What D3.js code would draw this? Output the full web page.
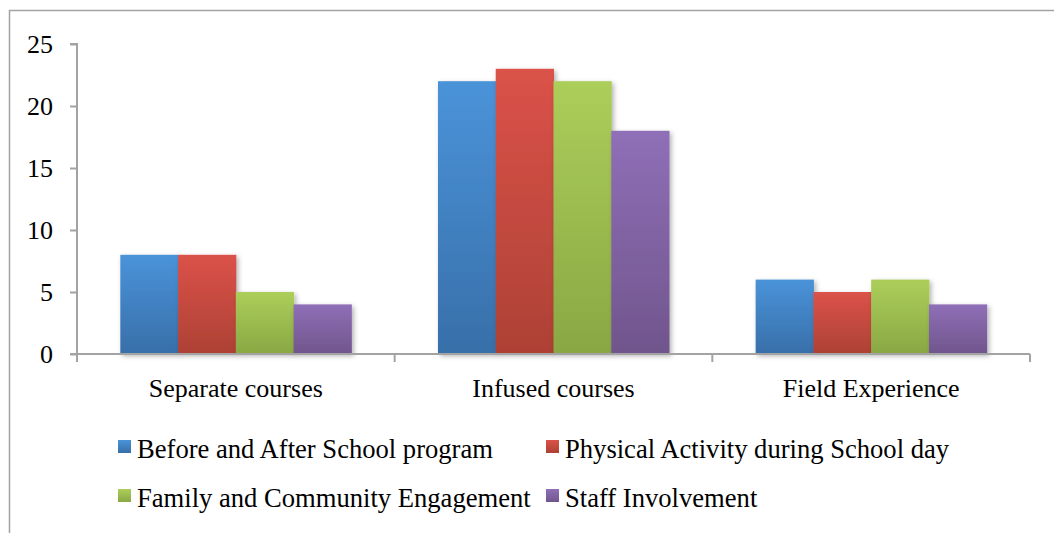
<!DOCTYPE html>
<html>
<head>
<meta charset="utf-8">
<script src="https://cdn.jsdelivr.net/npm/d3@7"></script>
<style>
  html, body { margin: 0; padding: 0; background: #fff; }
  svg { display: block; }
  text { font-family: "Liberation Serif", "Times New Roman", serif; fill: #000; }
</style>
</head>
<body>
<svg id="chart" width="1054" height="533"></svg>
<script>
// Chart data
const categories = ["Separate courses", "Infused courses", "Field Experience"];
const seriesNames = [
  "Before and After School program",
  "Physical Activity during School day",
  "Family and Community Engagement",
  "Staff Involvement"
];
const beforeAfter = [8, 22, 6];
const physicalActivity = [8, 23, 5];
const familyCommunity = [5, 22, 6];
const staffInvolvement = [4, 18, 4];
const yTicks = [0, 5, 10, 15, 20, 25];

const seriesValues = [beforeAfter, physicalActivity, familyCommunity, staffInvolvement];
const palette = [
  { top: "#4a93d9", bottom: "#386fa9" },
  { top: "#db5249", bottom: "#ad4135" },
  { top: "#acce5a", bottom: "#89a844" },
  { top: "#8f6fb7", bottom: "#70558c" }
];
const axisFontSize = "26px";
const legendFontSize = "26.6px";

const svg = d3.select("#chart");
const defs = svg.append("defs");

palette.forEach((c, i) => {
  const g = defs.append("linearGradient")
    .attr("id", "grad" + i)
    .attr("x1", 0).attr("y1", 0).attr("x2", 0).attr("y2", 1);
  g.append("stop").attr("offset", "0%").attr("stop-color", c.top);
  g.append("stop").attr("offset", "100%").attr("stop-color", c.bottom);
});

const shadow = defs.append("filter").attr("id", "barShadow")
  .attr("x", "-20%").attr("y", "-10%").attr("width", "150%").attr("height", "130%");
shadow.append("feDropShadow")
  .attr("dx", 2).attr("dy", 2).attr("stdDeviation", 2.5)
  .attr("flood-color", "#000").attr("flood-opacity", 0.3);

// Outer frame
svg.append("rect")
  .attr("x", 9.5).attr("y", 10.5)
  .attr("width", 1060).attr("height", 540)
  .attr("fill", "none").attr("stroke", "#a3a3a3").attr("stroke-width", 1.5);

const plot = { left: 77, right: 1030, top: 44, bottom: 354 };

const x0 = d3.scaleBand()
  .domain(categories)
  .range([plot.left, plot.right])
  .paddingInner(0).paddingOuter(0);

const x1 = d3.scaleBand()
  .domain(d3.range(seriesNames.length))
  .range([0, x0.bandwidth()])
  .paddingOuter(0.75).paddingInner(0);

const y = d3.scaleLinear().domain([0, 25]).range([plot.bottom, plot.top]);

// Bars
const groups = svg.append("g").selectAll("g")
  .data(categories)
  .join("g")
  .attr("transform", d => `translate(${x0(d)},0)`);

groups.selectAll("rect")
  .data((d, ci) => seriesValues.map((vals, si) => ({ si, v: vals[ci] })))
  .join("rect")
  .attr("x", d => x1(d.si))
  .attr("y", d => y(d.v))
  .attr("width", x1.bandwidth() + 0.5)
  .attr("height", d => y(0) - y(d.v))
  .attr("fill", d => `url(#grad${d.si})`)
  .attr("filter", "url(#barShadow)");

// Y axis
const yAxis = d3.axisLeft(y).tickValues(yTicks).tickSize(7).tickPadding(17).tickFormat(d3.format("d"));
const gy = svg.append("g").attr("transform", `translate(${plot.left},0)`).call(yAxis);
gy.select(".domain").attr("stroke", "#a3a3a3").attr("stroke-width", 2)
  .attr("d", `M-7,${plot.top}H0V${plot.bottom + 7}`);
gy.selectAll(".tick line").attr("stroke", "#a3a3a3").attr("stroke-width", 2);
gy.selectAll(".tick text")
  .style("font-family", "'Liberation Serif', 'Times New Roman', serif")
  .style("font-size", axisFontSize).attr("fill", "#000");

// X axis
const boundaries = categories.map(c => x0(c)).concat([plot.right]);
const gx = svg.append("g");
gx.append("line")
  .attr("x1", plot.left - 7).attr("x2", plot.right)
  .attr("y1", plot.bottom).attr("y2", plot.bottom)
  .attr("stroke", "#a3a3a3").attr("stroke-width", 2);
gx.selectAll("line.tick")
  .data(boundaries)
  .join("line").attr("class", "tick")
  .attr("x1", d => d).attr("x2", d => d)
  .attr("y1", plot.bottom).attr("y2", plot.bottom + 8)
  .attr("stroke", "#a3a3a3").attr("stroke-width", 2);
gx.selectAll("text")
  .data(categories)
  .join("text")
  .attr("x", d => x0(d) + x0.bandwidth() / 2)
  .attr("y", 397)
  .attr("text-anchor", "middle")
  .style("font-size", axisFontSize)
  .text(d => d);

// Legend
const legendPos = [
  { x: 118, y: 440 }, { x: 546, y: 440 },
  { x: 118, y: 489 }, { x: 546, y: 489 }
];
const legend = svg.append("g").selectAll("g")
  .data(seriesNames)
  .join("g")
  .attr("transform", (d, i) => `translate(${legendPos[i].x},${legendPos[i].y})`);
legend.append("rect")
  .attr("width", 13).attr("height", 13)
  .attr("fill", (d, i) => `url(#grad${i})`);
legend.append("text")
  .attr("x", 19).attr("y", 18)
  .style("font-size", legendFontSize)
  .text(d => d);
</script>
</body>
</html>
